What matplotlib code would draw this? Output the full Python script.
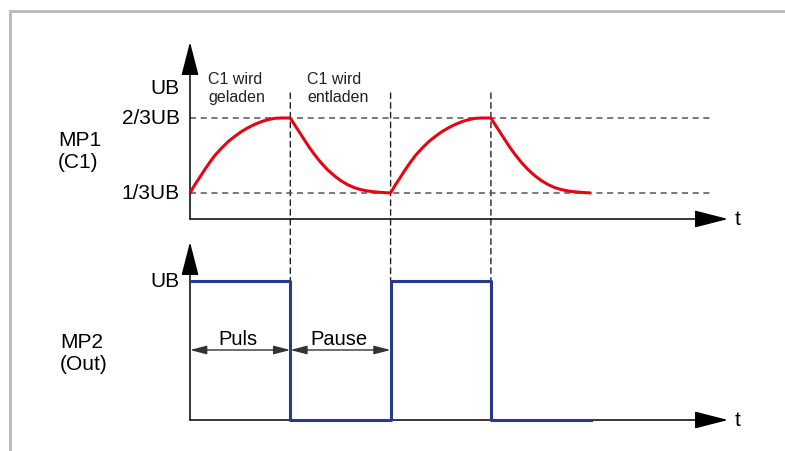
import numpy as np
import matplotlib
matplotlib.use('Agg')
import matplotlib.pyplot as plt
from matplotlib.patches import ConnectionPatch
from matplotlib.lines import Line2D

plt.rcParams['font.family'] = ['Liberation Sans', 'DejaVu Sans']

# shape of one charge / discharge segment
# t in periods, f = fraction between 1/3UB (0) and 2/3UB (1)
charge_t = [0.0, 0.047, 0.097, 0.147, 0.197, 0.247, 0.313, 0.38, 0.447,
            0.513, 0.58, 0.647, 0.713, 0.78, 0.847, 0.913, 1.0]
charge_f = [0.0, 0.107, 0.209, 0.312, 0.409, 0.499, 0.596, 0.685, 0.756,
            0.819, 0.872, 0.916, 0.952, 0.979, 0.996, 1.0, 1.0]
discharge_t = [0.0, 0.037, 0.087, 0.137, 0.187, 0.237, 0.303, 0.37, 0.437,
               0.503, 0.57, 0.637, 0.703, 0.77, 0.837, 0.903, 1.0]
discharge_f = [1.0, 0.921, 0.819, 0.715, 0.613, 0.52, 0.409, 0.312, 0.232,
               0.165, 0.112, 0.072, 0.045, 0.027, 0.016, 0.008, 0.0]

# phases in order (start time, shape)
phase_start = [0, 1, 2, 3]
phase_kind = ['charge', 'discharge', 'charge', 'discharge']

# output square wave (MP2)
out_t = [0, 1, 1, 2, 2, 3, 3, 4]
out_v = [1, 1, 0, 0, 1, 1, 0, 0]

switch_t = [1, 2, 3]          # vertical dashed markers
levels = [1 / 3, 2 / 3]
level_labels = ['1/3UB', '2/3UB']

red = '#e30613'
blue = '#283a8f'

fig = plt.figure(figsize=(7.85, 4.52), dpi=100)

W, H = 785.0, 452.0
x0 = 190 / W
xw = 550 / W
t_max = 550 / 100.3

ax1 = fig.add_axes([x0, 1 - 220 / H, xw, 177 / H])
ax2 = fig.add_axes([x0, 1 - 421 / H, xw, 178 / H])
for ax in (ax1, ax2):
    ax.set_axis_off()
    ax.set_xlim(0, t_max)
ax1.set_ylim(1 / 3 - 26 / 225, 1 / 3 + 151 / 225)
ax2.set_ylim(0, 178 / 139)

t_arrow = 538 / 100.3
head = dict(arrowstyle='-|>,head_length=21,head_width=5.4', mutation_scale=1,
            color='black', lw=1.1, shrinkA=0, shrinkB=0)


def axes_arrows(ax):
    y0, y1 = ax.get_ylim()
    ax.annotate('', xy=(0, y1), xytext=(0, y0), arrowprops=head,
                annotation_clip=False).set_zorder(2)
    ax.annotate('', xy=(t_arrow, y0), xytext=(0, y0), arrowprops=head,
                annotation_clip=False).set_zorder(2)
    ax.text(t_arrow + 0.07, y0, 't', fontsize=15, ha='left', va='center')


axes_arrows(ax1)
axes_arrows(ax2)

# dashed reference levels
for lv, lb in zip(levels, level_labels):
    ax1.plot([0, 522 / 100.3], [lv, lv], color='#555555', lw=1.1,
             dashes=(4, 3), zorder=1)
    ax1.text(-0.1, lv, lb, fontsize=15, ha='right', va='center')
ax1.text(-0.1, 0.80, 'UB', fontsize=15, ha='right', va='center')

# capacitor voltage
for st, kind in zip(phase_start, phase_kind):
    if kind == 'charge':
        tt, ff = charge_t, charge_f
    else:
        tt, ff = discharge_t, discharge_f
    ax1.plot(np.array(tt) + st, 1 / 3 + np.array(ff) / 3, color=red, lw=2.2,
             solid_capstyle='butt', solid_joinstyle='round', zorder=5)

# output
ax2.plot(out_t, out_v, color=blue, lw=2.2, zorder=5, clip_on=False)
ax2.text(-0.1, 1.0, 'UB', fontsize=15, ha='right', va='center')

# vertical dashed markers across both panels
for st in switch_t:
    con = ConnectionPatch(xyA=(st, 0.778), coordsA=ax1.transData,
                          xyB=(st, 1.0), coordsB=ax2.transData,
                          color='#222222', lw=1.0, linestyle=(0, (4, 3)), zorder=0)
    fig.add_artist(con)

# Puls / Pause arrows
dbl = dict(arrowstyle='<|-|>,head_length=10,head_width=2.6', mutation_scale=1,
           color='#333333', lw=1.0, shrinkA=0, shrinkB=0)
y_arr = 70 / 139
ax2.annotate('', xy=(1, y_arr), xytext=(0, y_arr), arrowprops=dbl)
ax2.annotate('', xy=(2, y_arr), xytext=(1, y_arr), arrowprops=dbl)
ax2.text(0.48, 76 / 139, 'Puls', fontsize=14.5, ha='center', va='baseline')
ax2.text(1.48, 76 / 139, 'Pause', fontsize=14.5, ha='center', va='baseline')

# phase annotations
ax1.text(0.18, 0.80, 'C1 wird\ngeladen', fontsize=11.5, ha='left',
         va='center', color='#222222', linespacing=1.25)
ax1.text(1.17, 0.80, 'C1 wird\nentladen', fontsize=11.5, ha='left',
         va='center', color='#222222', linespacing=1.25)

# channel names
fig.text(58 / W, 1 - 152 / H, 'MP1\n(C1)', fontsize=15, ha='left', va='center',
         linespacing=1.2)
fig.text(60 / W, 1 - 353 / H, 'MP2\n(Out)', fontsize=15, ha='left', va='center',
         linespacing=1.2)

# frame
fig.add_artist(Line2D([10 / W, 1], [1 - 12 / H, 1 - 12 / H], color='#bdbdbd', lw=2.2))
fig.add_artist(Line2D([10 / W, 10 / W], [0, 1 - 12 / H], color='#bdbdbd', lw=2.2))

fig.savefig('out.png', dpi=100)
